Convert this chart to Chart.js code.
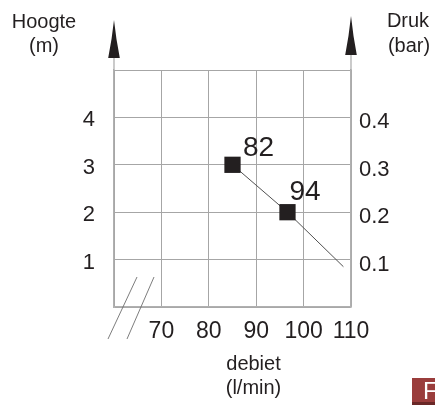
<!DOCTYPE html>
<html><head><meta charset="utf-8">
<script src="https://cdn.jsdelivr.net/npm/chart.js@4"></script>
<style>
html,body{margin:0;padding:0;background:#fff;}
#wrap{position:relative;width:435px;height:405px;overflow:hidden;}
#logo{position:absolute;left:412px;top:378px;width:30px;height:24px;background:#9a3d3c;box-shadow:0 3px 0 #6a2827;color:#fff;font:24px 'Liberation Sans',Arial,sans-serif;line-height:26px;padding-left:11px;box-sizing:content-box;}
</style></head>
<body><div id="wrap"><canvas id="c" width="435" height="405"></canvas><div id="logo">F</div></div>
<script>
const flowTicks = [60, 70, 80, 90, 100, 110];
const flowTickLabels = ['', '70', '80', '90', '100', '110'];
const heightTicks = [0, 1, 2, 3, 4, 5];
const heightTickLabels = ['', '1', '2', '3', '4', ''];
const pressureTicks = [0, 0.1, 0.2, 0.3, 0.4, 0.5];
const pressureTickLabels = ['', '0.1', '0.2', '0.3', '0.4', ''];
const flowValues = [85, 96.6, 108.4];
const heightValues = [3, 2, 0.85];
const pointLabels = ['82', '94', ''];
const xTitle = ['debiet', '(l/min)'];
const yTitle = ['Hoogte', '(m)'];
const y2Title = ['Druk', '(bar)'];

const FONT = "'Liberation Sans', Arial, sans-serif";
const INK = '#231f20';
const GRID = '#a6a6a6';

const decor = {
  id: 'decor',
  afterDraw(chart) {
    const {ctx, chartArea: a, scales} = chart;
    ctx.save();
    // axis extensions
    ctx.strokeStyle = '#a8a8a8';
    ctx.lineWidth = 1.2;
    ctx.beginPath();
    ctx.moveTo(a.left, a.top); ctx.lineTo(a.left, a.top - 14);
    ctx.moveTo(a.right, a.top); ctx.lineTo(a.right, a.top - 16);
    ctx.stroke();
    // arrows
    ctx.fillStyle = INK;
    const tri = (x, tip, base, hw) => {
      ctx.beginPath();
      ctx.moveTo(x, tip);
      ctx.quadraticCurveTo(x - hw * 0.35, (tip + base) / 2, x - hw, base);
      ctx.lineTo(x + hw, base);
      ctx.quadraticCurveTo(x + hw * 0.35, (tip + base) / 2, x, tip);
      ctx.closePath();
      ctx.fill();
    };
    tri(a.left, a.top - 50, a.top - 12, 5.8);
    tri(a.right, a.top - 54, a.top - 15, 5.8);
    // axis break marks
    ctx.strokeStyle = '#6e6e6e';
    ctx.lineWidth = 0.9;
    ctx.beginPath();
    ctx.moveTo(a.left - 6, a.bottom + 32); ctx.lineTo(a.left + 23, a.bottom - 30);
    ctx.moveTo(a.left + 13, a.bottom + 32); ctx.lineTo(a.left + 40, a.bottom - 30);
    ctx.stroke();
    // titles
    ctx.fillStyle = INK;
    ctx.textAlign = 'center';
    ctx.textBaseline = 'alphabetic';
    ctx.font = '20px ' + FONT;
    ctx.fillText(yTitle[0], 44, 28);
    ctx.fillText(yTitle[1], 44, 52);
    ctx.fillText(y2Title[0], 408, 27);
    ctx.fillText(y2Title[1], 409, 52);
    const xc = (a.left + a.right) / 2 + 21;
    ctx.fillText(xTitle[0], xc, 370);
    ctx.fillText(xTitle[1], xc, 394);
    // point labels
    const offs = [[26, -8.5], [17.5, -12.7]];
    ctx.font = '28px ' + FONT;
    pointLabels.forEach((t, i) => {
      if (!t) return;
      const px = scales.x.getPixelForValue(flowValues[i]);
      const py = scales.y.getPixelForValue(heightValues[i]);
      ctx.fillText(t, px + offs[i][0], py + offs[i][1]);
    });
    ctx.restore();
  }
};

new Chart(document.getElementById('c'), {
  type: 'scatter',
  data: {
    datasets: [{
      data: flowValues.map((x, i) => ({x, y: heightValues[i]})),
      showLine: true,
      borderColor: '#505050',
      borderWidth: 1,
      backgroundColor: INK,
      pointStyle: 'rect',
      pointRadius: [11.5, 11.5, 0],
      pointHoverRadius: [11.5, 11.5, 0],
      pointBorderWidth: 0,
      yAxisID: 'y'
    }]
  },
  options: {
    responsive: false,
    animation: false,
    devicePixelRatio: 1,
    events: [],
    layout: {padding: {top: 70, left: 0, right: 0, bottom: 0}},
    plugins: {legend: {display: false}, tooltip: {enabled: false}, title: {display: false}},
    scales: {
      x: {
        type: 'linear', position: 'bottom', min: 60, max: 110,
        afterBuildTicks: s => { s.ticks = flowTicks.map(v => ({value: v})); },
        afterFit: s => { s.height = 98; },
        ticks: {
          callback: (v, i) => flowTickLabels[i],
          color: INK, font: {family: FONT, size: 23}, padding: 11, maxRotation: 0, autoSkip: false
        },
        grid: {color: GRID, lineWidth: 1, drawTicks: false},
        border: {color: '#b0b0b0', width: 1.2}
      },
      y: {
        type: 'linear', position: 'left', min: 0, max: 5,
        afterBuildTicks: s => { s.ticks = heightTicks.map(v => ({value: v})); },
        afterFit: s => { s.width = 114; },
        ticks: {
          callback: (v, i) => heightTickLabels[i],
          color: INK, font: {family: FONT, size: 22}, padding: 19, labelOffset: 3, autoSkip: false
        },
        grid: {color: GRID, lineWidth: 1, drawTicks: false},
        border: {color: '#b0b0b0', width: 1.2}
      },
      y2: {
        type: 'linear', position: 'right', min: 0, max: 0.5,
        afterBuildTicks: s => { s.ticks = pressureTicks.map(v => ({value: v})); },
        afterFit: s => { s.width = 84; },
        ticks: {
          callback: (v, i) => pressureTickLabels[i],
          color: INK, font: {family: FONT, size: 22}, padding: 8, labelOffset: 5, autoSkip: false
        },
        grid: {drawOnChartArea: false, drawTicks: false},
        border: {color: '#b0b0b0', width: 1.5}
      }
    }
  },
  plugins: [decor]
});
</script>
</body></html>
